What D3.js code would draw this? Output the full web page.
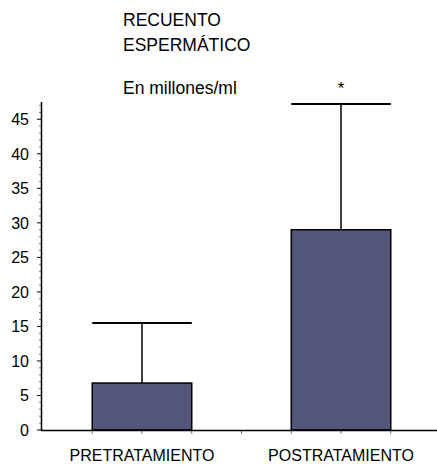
<!DOCTYPE html>
<html>
<head>
<meta charset="utf-8">
<script src="https://cdn.jsdelivr.net/npm/d3@7"></script>
<style>
  body { margin: 0; background: #fff; }
  svg { display: block; font-family: "Liberation Sans", Arial, sans-serif; }
</style>
</head>
<body>
<svg width="437" height="465"></svg>
<script>
var categories = ["PRETRATAMIENTO", "POSTRATAMIENTO"];
var means = [6.8, 29.0];
var upperErr = [15.5, 47.2];
var marks = ["", "*"];
var yTicks = [0, 5, 10, 15, 20, 25, 30, 35, 40, 45];
var titleLines = ["RECUENTO", "ESPERMÁTICO"];
var unitText = "En millones/ml";

var svg = d3.select("svg"),
	barColor = "#53567a";

var x = d3.scaleBand()
	.domain(categories)
	.range([42.5, 440.5]);

var y = d3.scaleLinear()
	.domain([0, 47.5])
	.range([430, 102]);

var barW = x.bandwidth() / 2;

// title
svg.append("g")
	.selectAll("text")
	.data(titleLines)
	.enter().append("text")
		.attr("x", 123)
		.attr("y", function(d, i) { return 26 + i * 25; })
		.attr("font-size", 17.5)
		.attr("fill", "#000")
		.text(function(d) { return d; });

svg.append("text")
	.attr("x", 123)
	.attr("y", 94)
	.attr("font-size", 17.5)
	.text(unitText);

// minor ticks on y
var minor = d3.range(0, 48, 1);
svg.append("g")
	.selectAll("line")
	.data(minor)
	.enter().append("line")
		.attr("x1", function(d) { return d % 5 === 0 ? 37 : 39; })
		.attr("x2", 41.5)
		.attr("y1", function(d) { return y(d); })
		.attr("y2", function(d) { return y(d); })
		.attr("stroke", function(d) { return d % 5 === 0 ? "#000" : "#777"; })
		.attr("stroke-width", 1);

svg.append("g")
	.selectAll("text")
	.data(yTicks)
	.enter().append("text")
		.attr("x", 29)
		.attr("y", function(d) { return y(d); })
		.attr("dy", "0.36em")
		.attr("text-anchor", "end")
		.attr("font-size", 16)
		.text(function(d) { return d; });

// x ticks
var xt = [];
categories.forEach(function(c) {
	for (var k = 1; k <= 4; k++) xt.push(x(c) + k * x.bandwidth() / 4);
});
svg.append("g")
	.selectAll("line")
	.data(xt)
	.enter().append("line")
		.attr("x1", function(d) { return d; })
		.attr("x2", function(d) { return d; })
		.attr("y1", 430)
		.attr("y2", 434)
		.attr("stroke", "#777");

// error bars
var bars = svg.append("g")
	.selectAll("g")
	.data(categories)
	.enter().append("g");

bars.append("line")
	.attr("x1", function(d) { return x(d) + x.bandwidth() / 2; })
	.attr("x2", function(d) { return x(d) + x.bandwidth() / 2; })
	.attr("y1", function(d, i) { return y(means[i]); })
	.attr("y2", function(d, i) { return y(upperErr[i]); })
	.attr("stroke", "#000")
	.attr("stroke-width", 1.5);

bars.append("line")
	.attr("x1", function(d) { return x(d) + barW / 2; })
	.attr("x2", function(d) { return x(d) + barW * 1.5; })
	.attr("y1", function(d, i) { return y(upperErr[i]); })
	.attr("y2", function(d, i) { return y(upperErr[i]); })
	.attr("stroke", "#000")
	.attr("stroke-width", 2);

bars.append("rect")
	.attr("x", function(d) { return x(d) + barW / 2; })
	.attr("y", function(d, i) { return y(means[i]); })
	.attr("width", barW)
	.attr("height", function(d, i) { return y(0) - y(means[i]); })
	.attr("fill", barColor)
	.attr("stroke", "#000")
	.attr("stroke-width", 1.5);

bars.append("text")
	.attr("x", function(d) { return x(d) + x.bandwidth() / 2; })
	.attr("y", function(d, i) { return y(upperErr[i]) - 10; })
	.attr("text-anchor", "middle")
	.attr("font-size", 17)
	.text(function(d, i) { return marks[i]; });

// axes lines
svg.append("line")
	.attr("x1", 41.5).attr("x2", 41.5)
	.attr("y1", 102).attr("y2", 430.5)
	.attr("stroke", "#000").attr("stroke-width", 1.5);

svg.append("line")
	.attr("x1", 41).attr("x2", 437)
	.attr("y1", 430.5).attr("y2", 430.5)
	.attr("stroke", "#000").attr("stroke-width", 1.5);

// category labels
svg.append("g")
	.selectAll("text")
	.data(categories)
	.enter().append("text")
		.attr("x", function(d) { return x(d) + x.bandwidth() / 2; })
		.attr("y", 461)
		.attr("text-anchor", "middle")
		.attr("font-size", 16)
		.text(function(d) { return d; });
</script>
</body>
</html>
